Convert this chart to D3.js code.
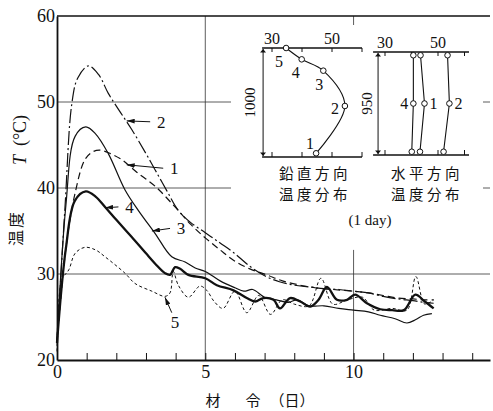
<!DOCTYPE html>
<html>
<head>
<meta charset="utf-8">
<script src="https://cdn.jsdelivr.net/npm/d3@7"></script>
<style>
  body { margin: 0; background: #fff; }
  svg { display: block; }
  .num { font-family: "Liberation Serif", "DejaVu Serif", serif; fill: #111; }
  .cjk { font-family: "Noto Sans CJK JP", "Noto Sans CJK SC", sans-serif; fill: #111; }
</style>
</head>
<body>
<svg width="493" height="411"></svg>
<script>
// curves: [day, temperature]
const curve1 = [[0,22],[0.3,33],[0.61,39.4],[0.94,43.3],[1.2,44.2],[1.45,44.4],[1.8,44.0],[2.18,43.3],[2.7,41.8],[3.31,40.2],[3.98,37.8],[4.5,35.8],[5.0,34.2],[5.5,32.8],[5.95,31.6],[6.5,30.6],[7.07,29.9],[7.6,29.2],[8.2,28.7],[8.7,28.4],[9.3,28.2],[10.0,28.0],[10.5,27.8],[11.0,27.5],[11.5,27.2],[12.0,27.1],[12.4,27.0],[12.7,27.0]]
const curve2 = [[0,22],[0.27,37.8],[0.5,49.8],[0.7,52.8],[1.06,54.2],[1.4,53.2],[1.73,51],[2.1,49],[2.52,46.8],[3.0,44],[3.31,42.1],[3.7,39.7],[4.09,37.4],[4.5,36.0],[5.0,34.8],[5.5,33.6],[5.95,32.5],[6.5,30.9],[7.0,29.8],[7.5,29.1],[8.0,28.7],[8.5,28.5],[9.0,28.3],[9.5,28.2],[10.0,28.0],[10.5,27.8],[11.0,27.4],[11.5,27.1],[12.0,26.9],[12.4,26.7],[12.7,26.6]]
const curve3 = [[0,22],[0.3,38],[0.61,46],[0.97,47.1],[1.3,46.3],[1.73,44],[2.29,39.8],[2.74,37.4],[3.31,34.7],[3.87,32],[4.32,31.4],[4.66,30.7],[5.0,30.3],[5.5,29.2],[6.0,28.4],[6.3,28.0],[6.6,28.2],[7.0,27.3],[7.4,27.0],[7.8,26.7],[8.1,27.0],[8.5,26.3],[9.0,26.3],[9.5,26.0],[10.0,25.8],[10.5,25.6],[10.9,25.2],[11.4,24.8],[11.8,24.3],[12.1,24.7],[12.36,25.2],[12.64,25.4]]
const curve4 = [[0,22],[0.3,33],[0.6,38.5],[0.97,39.6],[1.3,39.0],[1.62,37.8],[2.0,36.3],[2.52,34.3],[3.0,32.4],[3.31,31.2],[3.64,30.1],[3.81,29.9],[3.98,30.8],[4.15,30.6],[4.43,29.9],[5.0,29.5],[5.39,28.7],[5.95,28.1],[6.4,27.2],[6.68,26.8],[6.96,27.2],[7.3,27.0],[7.52,26.0],[7.86,27.2],[8.2,26.8],[8.54,26.2],[8.82,27.0],[9.1,28.5],[9.44,27.0],[9.78,27.0],[10.05,27.6],[10.45,26.6],[10.9,25.9],[11.3,25.8],[11.7,25.8],[12.08,27.6],[12.4,26.8],[12.7,26.0]]
const curve5 = [[0,21],[0.16,29.3],[0.4,30.5],[0.61,32.4],[0.94,33.1],[1.3,32.8],[1.62,32],[2.29,30.1],[2.63,28.9],[3.2,28.0],[3.64,27.4],[3.81,27.8],[3.92,30.3],[4.09,28.7],[4.43,27.3],[4.82,28.6],[5.05,28.1],[5.3,26.8],[5.6,26.0],[6.0,28.0],[6.4,25.5],[6.8,27.5],[7.2,25.3],[7.6,27.0],[8.0,26.5],[8.5,26.3],[8.9,29.5],[9.3,26.5],[9.8,27.0],[10.3,27.3],[10.7,25.8],[11.3,26.0],[11.8,25.8],[12.1,29.7],[12.4,26.5],[12.7,27.0]]

const xTicks = d3.range(0, 15)
const xLabels = [0, 5, 10]
const yTicks = [20, 30, 40, 50, 60]

// curve labels: text position, arrow head (day, temp)
const curveLabels = [
  { text: "2", at: [3.31, 47.7], head: [2.35, 47.8] },
  { text: "1", at: [3.75, 42.3], head: [2.35, 42.7] },
  { text: "4", at: [2.24, 37.8], head: [1.62, 37.7] },
  { text: "3", at: [3.98, 35.3], head: [3.2, 35.0] },
  { text: "5", at: [3.98, 24.4], from: [3.87, 25.5], head: [3.64, 27.3] }
]

// inset 1: vertical temperature distribution (temp, depth mm)
const vertDist = [
  { id: "5", T: 34.7, d: 0 },
  { id: "4", T: 39.9, d: 104 },
  { id: "3", T: 47.1, d: 208 },
  { id: "2", T: 54.3, d: 532 },
  { id: "1", T: 44.7, d: 966 }
]
// inset 2: horizontal temperature distribution
const horizDepth = [30, 475, 920]
const horiz4 = [40.7, 40.7, 40.1]
const horiz1 = [43.4, 44.9, 43.2]
const horiz2 = [53.6, 54.3, 52.1]

const svg = d3.select("svg")
const ink = "#111"

const x = d3.scaleLinear().domain([0, 14.6]).range([57, 490])
const y = d3.scaleLinear().domain([20, 60]).range([360, 16])

const defs = svg.append("defs")
defs.append("marker")
  .attr("id", "arrow")
  .attr("viewBox", "0 0 10 6")
  .attr("refX", 10).attr("refY", 3)
  .attr("markerWidth", 8).attr("markerHeight", 5)
  .attr("markerUnits", "userSpaceOnUse")
  .attr("orient", "auto")
  .append("path").attr("d", "M0,0L10,3L0,6Z").attr("fill", ink)
defs.append("marker")
  .attr("id", "dim")
  .attr("viewBox", "0 0 6 10")
  .attr("refX", 6).attr("refY", 5)
  .attr("markerWidth", 4).attr("markerHeight", 6)
  .attr("markerUnits", "userSpaceOnUse")
  .attr("orient", "auto-start-reverse")
  .append("path").attr("d", "M0,0L6,5L0,10Z").attr("fill", ink)

// inset box area (in pixels) – used to break grid lines
const insetLeft = 231, insetRight = 483

// grid
const grid = svg.append("g").attr("stroke", "#333").attr("stroke-width", 0.8)
grid.append("line")
  .attr("x1", x(0)).attr("x2", x.range()[1]).attr("y1", y(30)).attr("y2", y(30))
;[40, 50].forEach(v => {
  grid.append("line").attr("x1", x(0)).attr("x2", insetLeft).attr("y1", y(v)).attr("y2", y(v))
  grid.append("line").attr("x1", insetRight).attr("x2", x.range()[1]).attr("y1", y(v)).attr("y2", y(v))
})
grid.append("line").attr("x1", x(5)).attr("x2", x(5)).attr("y1", y(60)).attr("y2", y(20))
grid.append("line").attr("x1", x(10)).attr("x2", x(10)).attr("y1", y(32.8)).attr("y2", y(20))
grid.append("line").attr("x1", x(10)).attr("x2", x(10)).attr("y1", y(60)).attr("y2", y(60) + 9)

// frame: top border
svg.append("line")
  .attr("x1", x(0)).attr("x2", x.range()[1]).attr("y1", y(60)).attr("y2", y(60))
  .attr("stroke", ink).attr("stroke-width", 1.3)

// axes
const xAxis = svg.append("g")
  .attr("transform", `translate(0,${y(20)})`)
  .call(d3.axisBottom(x).tickValues(xTicks).tickSize(-7).tickSizeOuter(0).tickPadding(5)
    .tickFormat(d => xLabels.includes(d) ? d : ""))
xAxis.select(".domain").attr("stroke", ink).attr("stroke-width", 1.8)
xAxis.selectAll(".tick line").attr("stroke", ink).attr("stroke-width", 1)
xAxis.selectAll("text").attr("class", "num").style("font-size", "18px").attr("fill", ink)

const yAxis = svg.append("g")
  .attr("transform", `translate(${x(0)},0)`)
  .call(d3.axisLeft(y).tickValues(yTicks).tickSize(0).tickSizeOuter(0).tickPadding(2))
yAxis.select(".domain").attr("stroke", ink).attr("stroke-width", 1.8)
yAxis.selectAll("text").attr("class", "num").style("font-size", "18px").attr("fill", ink)

// curves
const line = d3.line()
  .x(d => x(d[0])).y(d => y(d[1]))
  .curve(d3.curveCatmullRom.alpha(0.5))

const series = [
  { data: curve1, width: 1.2, dash: "7,4" },
  { data: curve2, width: 1.2, dash: "14,3,2,3" },
  { data: curve3, width: 1.2, dash: null },
  { data: curve4, width: 2.3, dash: null },
  { data: curve5, width: 1, dash: "3,2.5" }
]
svg.append("g").selectAll("path")
  .data(series)
  .join("path")
    .attr("d", d => line(d.data))
    .attr("fill", "none")
    .attr("stroke", ink)
    .attr("stroke-width", d => d.width)
    .attr("stroke-dasharray", d => d.dash)
    .attr("stroke-linejoin", "round")

// curve labels with arrows
const lab = svg.append("g")
curveLabels.forEach(c => {
  const start = c.from ? [x(c.from[0]), y(c.from[1])] : [x(c.at[0]) - 5, y(c.at[1])]
  lab.append("line")
    .attr("x1", start[0]).attr("y1", start[1])
    .attr("x2", x(c.head[0])).attr("y2", y(c.head[1]))
    .attr("stroke", ink).attr("stroke-width", 1)
    .attr("marker-end", "url(#arrow)")
  lab.append("text")
    .attr("class", "num")
    .attr("x", x(c.at[0]) + (c.from ? 0 : 6)).attr("y", y(c.at[1]))
    .attr("dy", "0.35em")
    .attr("text-anchor", "middle")
    .style("font-size", "17px")
    .text(c.text)
})

// ---- inset 1: vertical distribution
const t1 = d3.scaleLinear().domain([30, 50]).range([272, 332])
const d1 = d3.scaleLinear().domain([0, 1000]).range([48, 157])
const in1 = svg.append("g")
const in1Dom = [26.7, 60]
;[0, 1000].forEach(dv => {
  in1.append("line")
    .attr("x1", t1(in1Dom[0])).attr("x2", t1(in1Dom[1]))
    .attr("y1", d1(dv)).attr("y2", d1(dv))
    .attr("stroke", ink).attr("stroke-width", 1.3)
  ;[30, 40, 50, 60].forEach(tv => {
    in1.append("line")
      .attr("x1", t1(tv)).attr("x2", t1(tv))
      .attr("y1", d1(dv)).attr("y2", d1(dv) + (dv === 0 ? 4 : -5))
      .attr("stroke", ink).attr("stroke-width", 1)
  })
})
;[30, 50].forEach(tv => {
  in1.append("text").attr("class", "num")
    .attr("x", t1(tv)).attr("y", d1(0) - 4)
    .attr("text-anchor", "middle").style("font-size", "16px")
    .text(tv)
})
in1.append("line")
  .attr("x1", t1(in1Dom[0]) + 1).attr("x2", t1(in1Dom[0]) + 1)
  .attr("y1", d1(0) + 1).attr("y2", d1(1000) - 1)
  .attr("stroke", ink).attr("stroke-width", 1)
  .attr("marker-start", "url(#dim)").attr("marker-end", "url(#dim)")
in1.append("text").attr("class", "num")
  .attr("transform", `translate(${t1(in1Dom[0]) - 12},${d1(500)}) rotate(-90)`)
  .attr("text-anchor", "middle").attr("dy", "0.35em")
  .style("font-size", "15px")
  .text("1000")
in1.append("path")
  .datum(vertDist)
  .attr("d", d3.line().x(d => t1(d.T)).y(d => d1(d.d)).curve(d3.curveCatmullRom.alpha(0.5)))
  .attr("fill", "none").attr("stroke", ink).attr("stroke-width", 1.1)
in1.selectAll("circle")
  .data(vertDist)
  .join("circle")
    .attr("cx", d => t1(d.T)).attr("cy", d => d1(d.d)).attr("r", 2.8)
    .attr("fill", "#fff").attr("stroke", ink).attr("stroke-width", 1)
const vertLabelPos = { "5": [-7, 13], "4": [-6, 13], "3": [-4, 14], "2": [-10, 2], "1": [-6, -10] }
in1.selectAll("text.vl")
  .data(vertDist)
  .join("text")
    .attr("class", "num vl")
    .attr("x", d => t1(d.T) + vertLabelPos[d.id][0])
    .attr("y", d => d1(d.d) + vertLabelPos[d.id][1])
    .attr("dy", "0.35em").attr("text-anchor", "middle")
    .style("font-size", "16px")
    .text(d => d.id)

// ---- inset 2: horizontal distribution
const t2 = d3.scaleLinear().domain([30, 50]).range([385, 438])
const d2 = d3.scaleLinear().domain([0, 950]).range([52, 155])
const in2 = svg.append("g")
const in2Dom = [25.5, 61.7]
;[0, 950].forEach(dv => {
  in2.append("line")
    .attr("x1", t2(in2Dom[0])).attr("x2", t2(in2Dom[1]))
    .attr("y1", d2(dv)).attr("y2", d2(dv))
    .attr("stroke", ink).attr("stroke-width", 1.3)
  ;[30, 40, 50, 60].forEach(tv => {
    in2.append("line")
      .attr("x1", t2(tv)).attr("x2", t2(tv))
      .attr("y1", d2(dv)).attr("y2", d2(dv) + (dv === 0 ? 4 : -5))
      .attr("stroke", ink).attr("stroke-width", 1)
  })
})
;[30, 50].forEach(tv => {
  in2.append("text").attr("class", "num")
    .attr("x", t2(tv)).attr("y", d2(0) - 4)
    .attr("text-anchor", "middle").style("font-size", "16px")
    .text(tv)
})
in2.append("line")
  .attr("x1", t2(in2Dom[0]) + 5).attr("x2", t2(in2Dom[0]) + 5)
  .attr("y1", d2(0) + 1).attr("y2", d2(950) - 1)
  .attr("stroke", ink).attr("stroke-width", 1)
  .attr("marker-start", "url(#dim)").attr("marker-end", "url(#dim)")
in2.append("text").attr("class", "num")
  .attr("transform", `translate(${t2(in2Dom[0]) - 6},${d2(475)}) rotate(-90)`)
  .attr("text-anchor", "middle").attr("dy", "0.35em")
  .style("font-size", "15px")
  .text("950")
const horizSeries = [
  { id: "4", vals: horiz4, dx: -9 },
  { id: "1", vals: horiz1, dx: 9 },
  { id: "2", vals: horiz2, dx: 9 }
]
horizSeries.forEach(s => {
  const pts = s.vals.map((v, i) => [t2(v), d2(horizDepth[i])])
  in2.append("path")
    .attr("d", d3.line()(pts))
    .attr("fill", "none").attr("stroke", ink).attr("stroke-width", 1.1)
  pts.forEach(p => {
    in2.append("circle").attr("cx", p[0]).attr("cy", p[1]).attr("r", 2.8)
      .attr("fill", "#fff").attr("stroke", ink).attr("stroke-width", 1)
  })
  in2.append("text").attr("class", "num")
    .attr("x", pts[1][0] + s.dx).attr("y", pts[1][1])
    .attr("dy", "0.35em").attr("text-anchor", "middle")
    .style("font-size", "16px")
    .text(s.id)
})

// inset captions
const capStyle = sel => sel.attr("class", "cjk").attr("text-anchor", "middle")
  .style("font-size", "14.5px").attr("letter-spacing", "3.5")
capStyle(svg.append("text").attr("x", 315).attr("y", 179).text("鉛直方向"))
capStyle(svg.append("text").attr("x", 315).attr("y", 200).text("温度分布"))
capStyle(svg.append("text").attr("x", 427).attr("y", 179).text("水平方向"))
capStyle(svg.append("text").attr("x", 427).attr("y", 200).text("温度分布"))
svg.append("text").attr("class", "num")
  .attr("x", 370).attr("y", 225).attr("text-anchor", "middle")
  .style("font-size", "15px")
  .text("(1 day)")

// axis titles
svg.append("text").attr("class", "cjk")
  .attr("transform", "translate(16,228) rotate(-90)")
  .attr("text-anchor", "middle").attr("dy", "0.35em")
  .style("font-size", "16px").attr("letter-spacing", "2")
  .text("温度")
const yt = svg.append("text").attr("class", "num")
  .attr("transform", "translate(20,140) rotate(-90)")
  .attr("text-anchor", "middle").attr("dy", "0.35em")
  .style("font-size", "18px")
yt.append("tspan").style("font-style", "italic").text("T")
yt.append("tspan").text("\u2002(°C)")

const xt = svg.append("g").attr("class", "cjk").style("font-size", "15px")
xt.append("text").attr("x", 213).attr("y", 406).attr("text-anchor", "middle").text("材")
xt.append("text").attr("x", 253).attr("y", 406).attr("text-anchor", "middle").text("令")
xt.append("text").attr("x", 292).attr("y", 406).attr("text-anchor", "middle").text("（日）")
</script>
</body>
</html>
